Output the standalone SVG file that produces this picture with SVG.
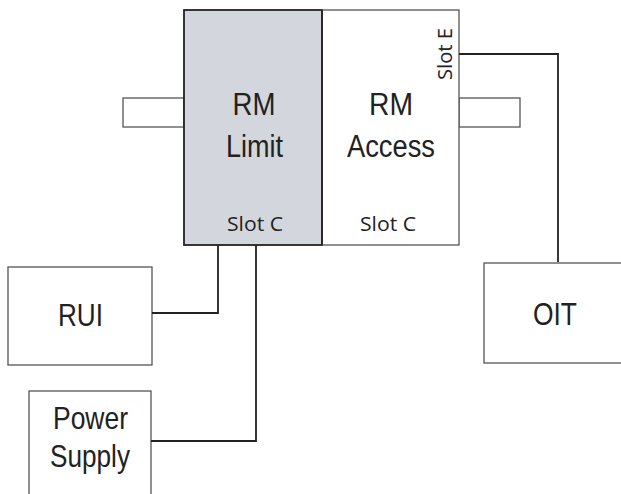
<svg xmlns="http://www.w3.org/2000/svg" width="621" height="494" viewBox="0 0 621 494">
<style>
.box{fill:#fff;stroke:#555;stroke-width:1.3}
.main{stroke:#222;stroke-width:1.8}
.big{font-family:"Liberation Sans",Arial,sans-serif;font-size:31px;fill:#222;text-anchor:middle}
.lab{font-family:"Liberation Sans",Arial,sans-serif;font-size:32px;fill:#222;text-anchor:middle}
.slot{font-family:"Open Sans","Liberation Sans",sans-serif;font-size:20px;fill:#222;text-anchor:middle}
.wire{fill:none;stroke:#222;stroke-width:1.8}
</style>
<g id="stub-left"><rect class="box" x="123" y="98" width="61" height="29"/></g>
<g id="stub-right"><rect class="box" x="459" y="98" width="61" height="29"/></g>
<g id="rm-limit">
<rect class="main" x="184" y="10" width="138" height="235" fill="#d4d6de"/>
<text class="big" x="254" y="115" textLength="43" lengthAdjust="spacingAndGlyphs">RM</text>
<text class="big" x="254.5" y="157" textLength="57" lengthAdjust="spacingAndGlyphs">Limit</text>
<text class="slot" x="255" y="231" textLength="56" lengthAdjust="spacingAndGlyphs">Slot C</text>
</g>
<g id="rm-access">
<rect class="box" x="322" y="10" width="137" height="235"/>
<line x1="322" y1="10" x2="322" y2="245" stroke="#222" stroke-width="1.8"/>
<text class="big" x="391" y="115" textLength="44" lengthAdjust="spacingAndGlyphs">RM</text>
<text class="big" x="391" y="157" textLength="88" lengthAdjust="spacingAndGlyphs">Access</text>
<text class="slot" x="388" y="231" textLength="56" lengthAdjust="spacingAndGlyphs">Slot C</text>
<text class="slot" transform="translate(452,54) rotate(-90)" x="0" y="0" textLength="52" lengthAdjust="spacingAndGlyphs">Slot E</text>
</g>
<g id="rui">
<rect class="box" x="8" y="267" width="144" height="98"/>
<text class="lab" x="80.5" y="326" textLength="45" lengthAdjust="spacingAndGlyphs">RUI</text>
</g>
<g id="power-supply">
<rect class="box" x="29" y="391" width="122" height="110"/>
<text class="lab" x="90.5" y="429" textLength="75" lengthAdjust="spacingAndGlyphs">Power</text>
<text class="lab" x="90" y="467" textLength="80" lengthAdjust="spacingAndGlyphs">Supply</text>
</g>
<g id="oit">
<rect class="box" x="484" y="263" width="140" height="100"/>
<text class="lab" x="555" y="325" textLength="44" lengthAdjust="spacingAndGlyphs">OIT</text>
</g>
<g id="connectors">
<polyline class="wire" points="152,313 218,313 218,245"/>
<polyline class="wire" points="151,441 256,441 256,245"/>
<polyline class="wire" points="459,54 558,54 558,262"/>
</g>
</svg>
